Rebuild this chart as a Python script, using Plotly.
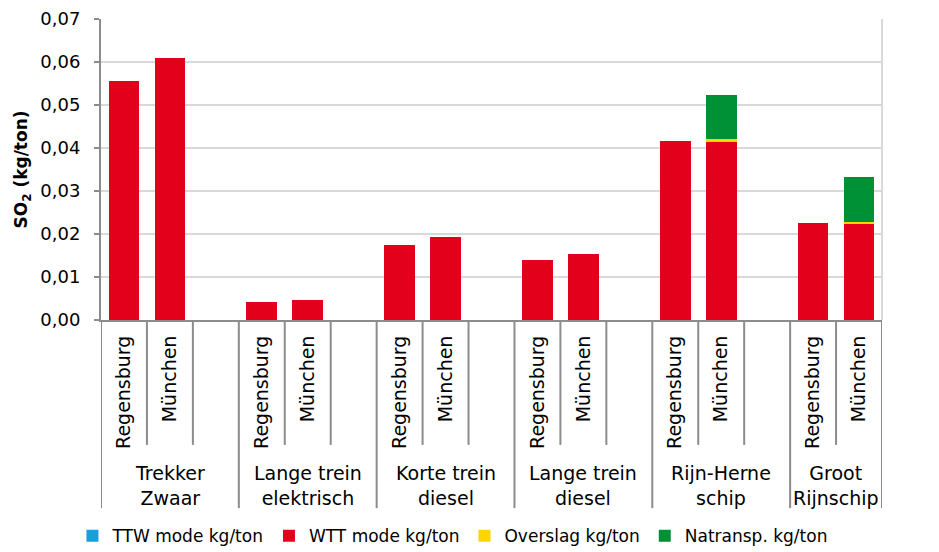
import plotly.graph_objects as go

# --- data -------------------------------------------------------------
groups = [
    "Trekker<br>Zwaar",
    "Lange trein<br>elektrisch",
    "Korte trein<br>diesel",
    "Lange trein<br>diesel",
    "Rijn-Herne<br>schip",
    "Groot<br>Rijnschip",
]
cities = ["Regensburg", "München"]

# values per group: [Regensburg, München]
ttw = [[0, 0], [0, 0], [0, 0], [0, 0], [0, 0], [0, 0]]
wtt = [
    [0.0556, 0.0610],
    [0.0041, 0.0046],
    [0.0175, 0.0194],
    [0.0139, 0.0153],
    [0.0416, 0.0414],
    [0.0225, 0.0224],
]
overslag = [[0, 0], [0, 0], [0, 0], [0, 0], [0, 0.0006], [0, 0.0005]]
natransp = [[0, 0], [0, 0], [0, 0], [0, 0], [0, 0.0103], [0, 0.0103]]

y_ticks = [0, 0.01, 0.02, 0.03, 0.04, 0.05, 0.06, 0.07]

series = [
    ("TTW mode kg/ton", ttw, "#17A1DC"),
    ("WTT mode kg/ton", wtt, "#E2001A"),
    ("Overslag kg/ton", overslag, "#FFD500"),
    ("Natransp. kg/ton", natransp, "#009036"),
]

# --- slot layout: 3 slots per group (last group only 2) ----------------
slots_per_group = [3, 3, 3, 3, 3, 2]
group_start = []
pos = 0
for n in slots_per_group:
    group_start.append(pos)
    pos += n
n_slots = pos

bar_x = []
bar_labels = []
for g, start in enumerate(group_start):
    for i, city in enumerate(cities):
        bar_x.append(start + i)
        bar_labels.append(city)

fig = go.Figure()
for name, values, color in series:
    fig.add_trace(
        go.Bar(
            x=bar_x,
            y=[v for pair in values for v in pair],
            name=name,
            marker_color=color,
            marker_line_width=0,
        )
    )

# divider lines under the x axis
axis_grey = "#8C8C8C"
group_edges = set(group_start + [n_slots])
for b in range(n_slots + 1):
    y_end = -0.625 if b in group_edges else -0.415
    fig.add_shape(
        type="line", xref="x", yref="paper",
        x0=b - 0.5, x1=b - 0.5, y0=0, y1=y_end,
        line=dict(color=axis_grey, width=2),
    )

# right border of plot area
fig.add_shape(
    type="line", xref="paper", yref="paper", x0=1, x1=1, y0=0, y1=1,
    line=dict(color="#D9D9D9", width=2),
)

# group labels
for g, start in enumerate(group_start):
    center = start + (slots_per_group[g] - 1) / 2
    fig.add_annotation(
        x=center, y=-0.55, xref="x", yref="paper",
        text=groups[g], showarrow=False, yanchor="middle",
        font=dict(size=19, color="#000000"),
    )

# page body keeps an 8px margin, so the figure is 8px smaller than the window
fig.update_layout(
    width=931,
    height=544,
    barmode="stack",
    bargap=0.33,
    separators=",.",
    plot_bgcolor="white",
    paper_bgcolor="white",
    font=dict(family="DejaVu Sans", size=17, color="#000000"),
    margin=dict(l=93, r=57, t=11, b=232, autoexpand=False),
    legend=dict(
        orientation="h",
        x=0.45, xanchor="center",
        y=-0.718, yanchor="middle",
        font=dict(size=17),
        itemwidth=30,
        traceorder="normal",
    ),
)

fig.update_xaxes(
    automargin=False,
    range=[-0.5, n_slots - 0.5],
    tickmode="array",
    tickvals=bar_x,
    ticktext=bar_labels,
    tickangle=-90,
    ticks="",
    ticklabelstandoff=6,
    showgrid=False,
    showline=True,
    linecolor=axis_grey,
    linewidth=2,
    zeroline=False,
    tickfont=dict(size=19),
)

fig.update_yaxes(
    automargin=False,
    range=[0, 0.07],
    tickmode="array",
    tickvals=y_ticks,
    tickformat=".2f",
    ticks="outside",
    ticklen=5,
    tickcolor=axis_grey,
    tickwidth=2,
    ticklabelstandoff=10,
    showline=True,
    linecolor=axis_grey,
    linewidth=2,
    showgrid=True,
    gridcolor="#D9D9D9",
    gridwidth=1.5,
    zeroline=False,
    tickfont=dict(size=18),
    title=dict(
        text="<b>SO<sub>2</sub> (kg/ton)</b>",
        font=dict(size=17),
        standoff=8,
    ),
)

fig.write_html("out.html")
